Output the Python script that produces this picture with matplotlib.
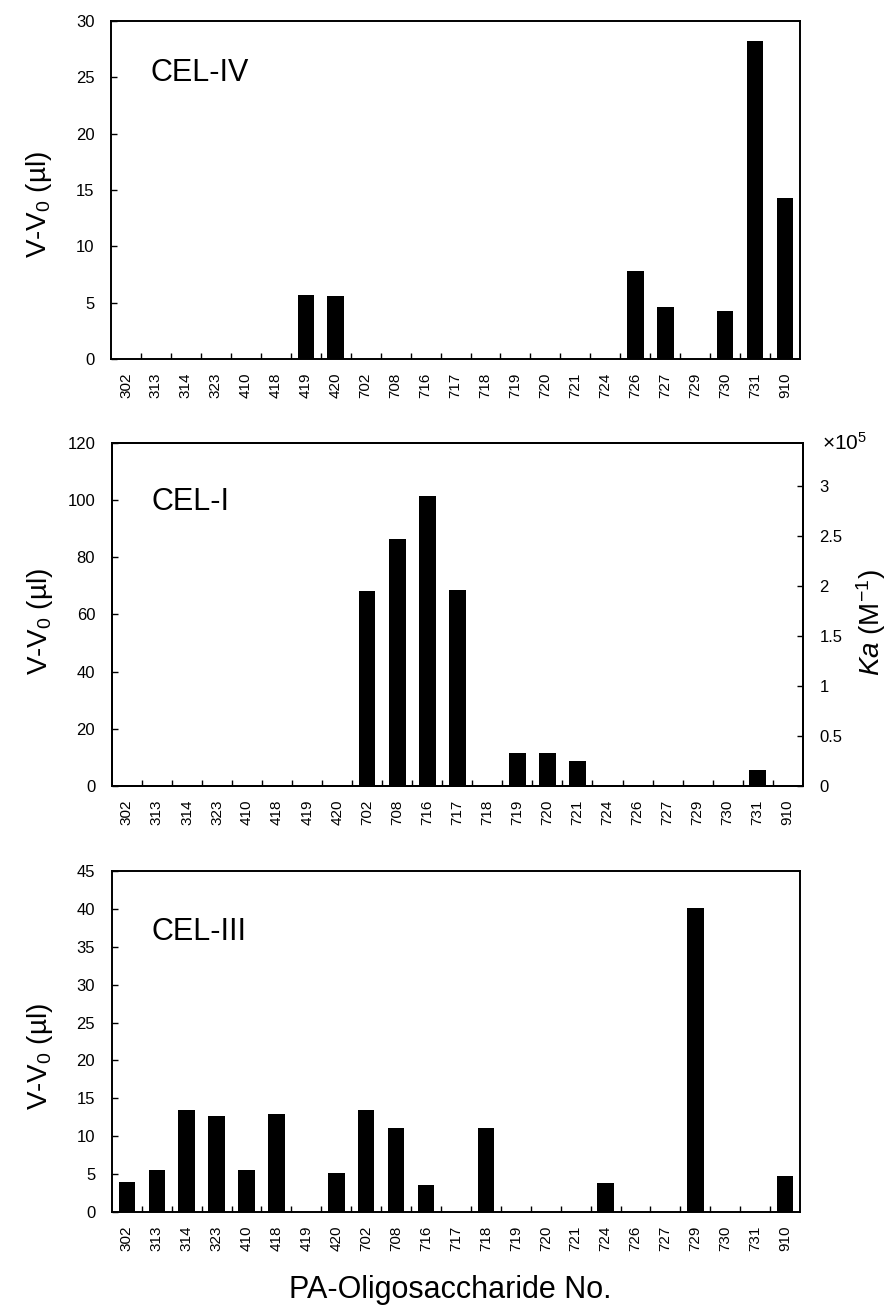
import matplotlib
matplotlib.use("Agg")
import matplotlib.pyplot as plt
import numpy as np

plt.rcParams['font.family'] = ['Liberation Sans', 'DejaVu Sans']
plt.rcParams['mathtext.fontset'] = 'custom'
plt.rcParams['mathtext.rm'] = 'Liberation Sans'
plt.rcParams['mathtext.it'] = 'Liberation Sans:italic'

# Numéros des oligosaccharides PA (mêmes pour les trois panneaux)
labels = ["302", "313", "314", "323", "410", "418", "419", "420", "702", "708", "716",
          "717", "718", "719", "720", "721", "724", "726", "727", "729", "730", "731", "910"]

# V-V0 (µl)
cel_iv = [0, 0, 0, 0, 0, 0, 5.7, 5.6, 0, 0, 0, 0, 0, 0, 0, 0, 0, 7.8, 4.6, 0, 4.3, 28.2, 14.3]
cel_i = [0, 0, 0, 0, 0, 0, 0, 0, 68.2, 86.3, 101.6, 68.6, 0, 11.7, 11.7, 8.9, 0, 0, 0, 0, 0, 5.7, 0]
cel_iii = [3.95, 5.6, 13.4, 12.7, 5.6, 13.0, 0, 5.1, 13.4, 11.1, 3.55, 0, 11.1, 0, 0, 0, 3.8, 0, 0, 40.1, 0, 0, 4.8]

panels = [
    ("CEL-IV", cel_iv, [0, 5, 10, 15, 20, 25, 30], 30, [0.125, 0.727, 0.776, 0.257], 0.846, 0.456),
    ("CEL-I", cel_i, [0, 20, 40, 60, 80, 100, 120], 120, [0.126, 0.4023, 0.778, 0.2608], 0.829, 0.48),
    ("CEL-III", cel_iii, [0, 5, 10, 15, 20, 25, 30, 35, 40, 45], 45, [0.126, 0.0783, 0.775, 0.2593], 0.822, 0.455),
]

x = np.arange(len(labels))

fig = plt.figure(figsize=(8.88, 13.15), dpi=100)

axes = []
for name, vals, yt, ymax, pos, ty, ly in panels:
    ax = fig.add_axes(pos)
    ax.bar(x, vals, width=0.55, color="black")
    ax.set_xlim(-0.5, len(labels) - 0.5)
    ax.set_ylim(0, ymax)
    ax.set_yticks(yt)
    ax.set_xticks(x)
    ax.set_xticklabels(labels, rotation=90, fontsize=11)
    ax.set_xticks(x[:-1] + 0.5, minor=True)
    ax.tick_params(axis="x", which="major", length=0, pad=10)
    ax.tick_params(axis="x", which="minor", direction="in", length=4, width=1)
    ax.tick_params(axis="y", direction="in", length=4, width=1, labelsize=12, pad=12)
    for s in ax.spines.values():
        s.set_linewidth(1.4)
    ax.set_ylabel(r"V-V$_\mathregular{0}$ (µl)", fontsize=20)
    ax.yaxis.set_label_coords(-0.083, ly)
    ax.text(0.058, ty, name, transform=ax.transAxes, fontsize=22, va="center", ha="left")
    axes.append(ax)

# Axe de droite Ka pour CEL-I
ax2 = axes[1].twinx()
ax2.set_ylim(0, 120 / 35)
ax2.set_yticks([0, 0.5, 1, 1.5, 2, 2.5, 3])
ax2.set_yticklabels(["0", "0.5", "1", "1.5", "2", "2.5", "3"])
ax2.tick_params(axis="y", direction="in", length=4, width=1, labelsize=12, pad=12)
ax2.set_ylabel(r"$Ka$ (M$^{-1}$)", fontsize=20)
ax2.yaxis.set_label_coords(1.075, 0.475)
for s in ax2.spines.values():
    s.set_linewidth(1.4)
ax2.text(1.028, 1.0, r"×10$^5$", transform=ax2.transAxes, fontsize=15, va="center", ha="left")

fig.text(0.507, 0.019, "PA-Oligosaccharide No.", fontsize=22, ha="center", va="center")

fig.savefig("out.png", dpi=100)
